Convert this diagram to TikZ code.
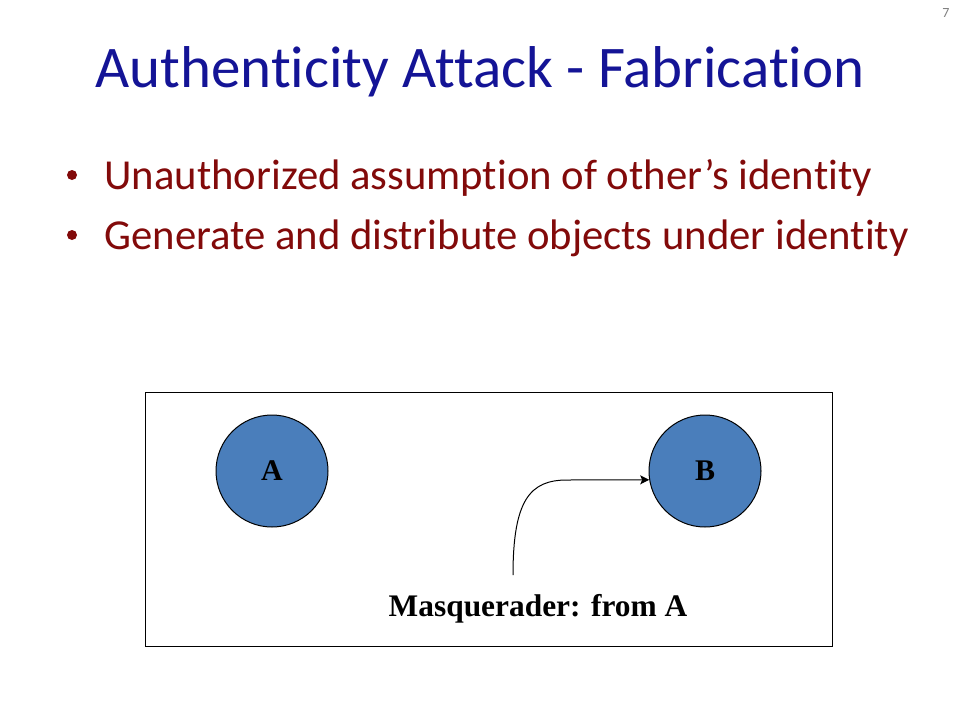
\documentclass[tikz,border=0pt]{standalone}
\usepackage{fontspec}
\setmainfont{Carlito}[Ligatures=NoCommon]
\newfontfamily\boxfont{Liberation Serif}
\usetikzlibrary{arrows.meta}
\definecolor{titleblue}{RGB}{20,20,150}
\definecolor{bulletred}{RGB}{130,10,10}
\definecolor{nodeblue}{RGB}{74,126,187}
\tikzstyle{party}=[circle,draw=black,fill=nodeblue,minimum size=112pt,inner sep=0pt,font=\boxfont\bfseries\fontsize{30}{30}\selectfont]
\tikzstyle{bullettext}=[anchor=base west,inner sep=0pt,text=bulletred,font=\fontsize{42.7}{42.7}\selectfont]

\begin{document}
\begin{tikzpicture}[x=1pt,y=-1pt,line width=1pt]
\useasboundingbox (0,0) rectangle (960,720);
% slide header
\node (pagenum) at (946,13) {\color{gray}\fontsize{14}{14}\selectfont 7};
\node (title) at (480,72) {\color{titleblue}\fontsize{59}{59}\selectfont Authenticity Attack - Fabrication};
% bullets
\foreach \y/\txt [count=\i] in {189/{Unauthorized assumption of other’s identity},249/{Generate and distribute objects under identity}} {
  \node[bullettext] (item\i) at (104,\y) {\txt};
  \fill[bulletred] (72,\y-14) circle (5);
}
% the diagram
\draw (145,392) rectangle (832,646);
\node[party] (A) at (272,471) {A};
\node[party] (B) at (705,471) {B};
\coordinate (m) at (513,575);
\draw[-{Stealth[length=9pt,width=9pt,inset=2pt]}] (m) .. controls (513,500) and (530,480) .. (567,480) -- (B.189);
\node (masq) at (538,609) {\boxfont\bfseries\fontsize{31.4}{31.4}\selectfont Masquerader: from A};
\end{tikzpicture}
\end{document}
